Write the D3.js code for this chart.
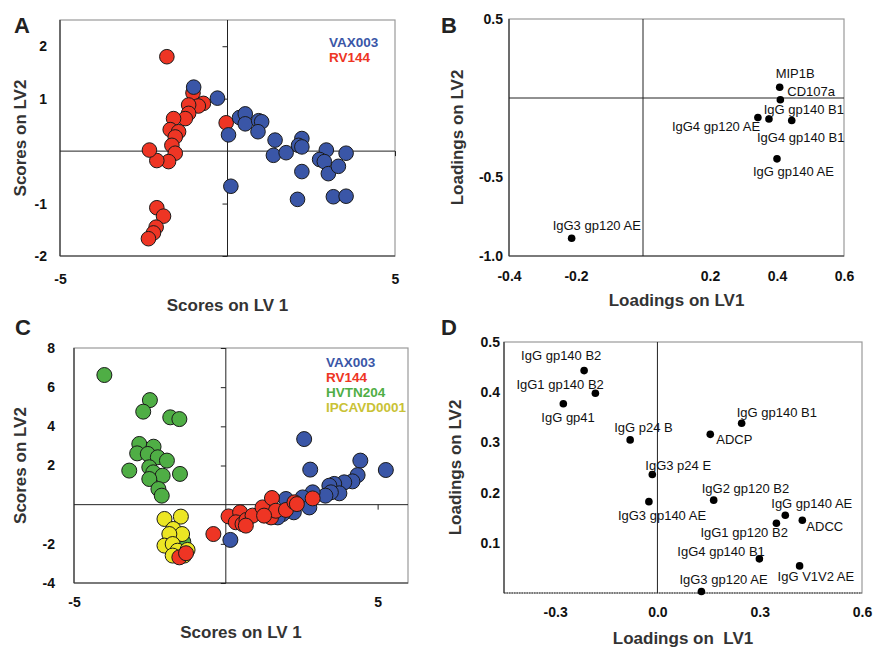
<!DOCTYPE html>
<html>
<head>
<meta charset="utf-8">
<script src="https://cdn.jsdelivr.net/npm/d3@7"></script>
<style>
  body { margin: 0; background: #fff; }
  svg { display: block; font-family: "Liberation Sans", Arial, sans-serif; }
</style>
</head>
<body>
<svg id="fig" width="873" height="650"></svg>
<script>
'use strict';

// ---- Panel A: scores (LV1, LV2)
const A_RV144 = [
  [-1.81, 1.80], [-1.03, 1.11], [-0.72, 0.91], [-0.87, 0.86], [-1.16, 0.88],
  [-1.16, 0.72], [-1.26, 0.62], [-1.61, 0.62], [-1.71, 0.41], [-1.46, 0.37],
  [-1.56, 0.27], [-1.66, 0.11], [-1.56, -0.04], [-1.76, -0.20], [-2.11, -0.18],
  [-2.33, 0.02], [-0.04, 0.54], [-2.11, -1.08], [-1.91, -1.24], [-2.13, -1.45],
  [-2.21, -1.56], [-2.36, -1.67],
];
const A_VAX003 = [
  [-1.01, 1.22], [-0.30, 1.01], [0.36, 0.64], [0.53, 0.71], [0.53, 0.52],
  [0.93, 0.58], [1.02, 0.56], [0.91, 0.37], [0.03, 0.31], [1.42, 0.21],
  [1.37, -0.08], [1.75, -0.03], [2.22, 0.24], [2.12, 0.11], [2.22, 0.08],
  [2.22, -0.39], [2.09, -0.92], [0.10, -0.67], [2.95, 0.02], [2.75, -0.16],
  [2.89, -0.20], [3.01, -0.43], [3.31, -0.29], [3.54, -0.04], [3.16, -0.87],
  [3.54, -0.86],
];

// ---- Panel B: loadings
const B_NAMES = ['MIP1B', 'CD107a', 'IgG4 gp120 AE', 'IgG4 gp140 B1', 'IgG gp140 B1', 'IgG gp140 AE', 'IgG3 gp120 AE'];
const B_LV1 = [0.408, 0.410, 0.343, 0.376, 0.444, 0.400, -0.213];
const B_LV2 = [0.068, -0.011, -0.123, -0.133, -0.142, -0.385, -0.888];

// ---- Panel C: scores (LV1, LV2)
const C_VAX003 = [
  [0.15, -1.80], [2.58, 3.35], [2.78, 1.79], [4.43, 2.25], [5.27, 1.77],
  [4.34, 1.51], [4.17, 1.19], [3.90, 1.14], [3.57, 1.06], [3.41, 0.97],
  [3.74, 0.58], [3.46, 0.63], [3.28, 0.46], [2.86, 0.63], [2.53, 0.37],
  [1.98, 0.29], [2.75, -0.14], [2.24, -0.39], [1.87, -0.48], [1.71, -0.65],
];
const C_HVTN204 = [
  [-4.00, 6.62], [-2.50, 5.34], [-2.72, 4.75], [-1.83, 4.46], [-1.53, 4.37],
  [-2.85, 3.10], [-2.38, 2.96], [-2.92, 2.62], [-2.57, 2.59], [-2.24, 2.42],
  [-1.94, 2.25], [-3.18, 1.74], [-2.52, 1.91], [-2.39, 1.65], [-2.08, 1.48],
  [-1.51, 1.57], [-2.52, 1.31], [-2.22, 0.80], [-2.11, 0.46], [-1.40, -1.90],
];
const C_IPCAVD0001 = [
  [-2.02, -0.73], [-1.48, -0.61], [-1.73, -1.24], [-1.44, -1.50], [-1.86, -1.50],
  [-2.02, -2.09], [-1.75, -2.01], [-1.59, -2.35], [-1.26, -2.31], [-1.75, -2.60],
  [-1.37, -2.60],
];
const C_RV144 = [
  [-1.53, -2.69], [-1.31, -2.48], [-0.41, -1.50], [0.09, -0.60], [0.47, -0.39],
  [0.33, -0.90], [0.55, -0.99], [0.68, -0.78], [0.88, -0.56], [1.21, -0.14],
  [1.52, 0.34], [1.49, -0.65], [1.65, -0.31], [1.98, -0.27], [2.26, 0.12],
  [2.34, 0.03], [2.86, 0.32], [0.66, -1.07], [1.26, -0.56],
];

// ---- Panel D: loadings
const D_NAMES = [
  'IgG gp140 B2', 'IgG1 gp140 B2', 'IgG gp41', 'IgG p24 B', 'IgG3 p24 E',
  'IgG3 gp140 AE', 'ADCP', 'IgG gp140 B1', 'IgG2 gp120 B2', 'IgG gp140 AE',
  'ADCC', 'IgG1 gp120 B2', 'IgG4 gp140 B1', 'IgG V1V2 AE', 'IgG3 gp120 AE',
];
const D_LV1 = [-0.215, -0.182, -0.276, -0.080, -0.015, -0.025, 0.155, 0.247, 0.165, 0.375, 0.425, 0.349, 0.299, 0.417, 0.129];
const D_LV2 = [0.443, 0.398, 0.377, 0.305, 0.236, 0.182, 0.316, 0.338, 0.185, 0.155, 0.145, 0.139, 0.068, 0.054, 0.003];

// label placement (pixels from the dot, text starts there)
const B_LABEL_OFFSET = [[-4, -9], [7, -4], [-86, 14], [-12, 23], [-28, -6], [-24, 17], [-19, -8]];
const D_LABEL_OFFSET = [
  [-63, -11], [-79, -4], [-22, 18], [-16, -8], [-7, -5],
  [-31, 18], [6, 10], [-5, -6], [-12, -7], [-14, -7],
  [4, 11], [-76, 14], [-82, -3], [-22, 15], [-22, -7],
];

const COLOR = { VAX003: '#3a56a7', RV144: '#ee3524', HVTN204: '#4fae45', IPCAVD0001: '#ece624' };
const TEXT_COLOR = { VAX003: '#3a56a7', RV144: '#ee3524', HVTN204: '#4fae45', IPCAVD0001: '#c9c236' };

const svg = d3.select('#fig');
const fmt1 = (d) => d.toFixed(1);
const fmt0 = (d) => String(d);

function drawPanel(cfg) {
  const x = d3.scaleLinear().domain(cfg.xDomain).range([cfg.left, cfg.right]);
  const y = d3.scaleLinear().domain(cfg.yDomain).range([cfg.bottom, cfg.top]);
  const g = svg.append('g');

  // frame: light top/right, dark left/bottom
  g.append('rect')
    .attr('x', cfg.left).attr('y', cfg.top)
    .attr('width', cfg.right - cfg.left).attr('height', cfg.bottom - cfg.top)
    .attr('fill', 'none').attr('stroke', '#9a9a9a').attr('stroke-width', 1.2);
  g.append('path')
    .attr('d', `M${cfg.left},${cfg.top}V${cfg.bottom}`)
    .attr('fill', 'none').attr('stroke', '#333').attr('stroke-width', 1.2);
  g.append('path')
    .attr('d', `M${cfg.left},${cfg.bottom}H${cfg.right}`)
    .attr('fill', 'none').attr('stroke', '#333').attr('stroke-width', 1.2)
    .attr('stroke-dasharray', cfg.bottomDash || null);

  // zero lines
  g.append('line')
    .attr('x1', x(0)).attr('x2', x(0)).attr('y1', cfg.top).attr('y2', cfg.bottom)
    .attr('stroke', '#222').attr('stroke-width', 1);
  if (y(0) < cfg.bottom - 1) {
    g.append('line')
      .attr('x1', cfg.left).attr('x2', cfg.right).attr('y1', y(0)).attr('y2', y(0))
      .attr('stroke', '#222').attr('stroke-width', 1);
  }

  // tick labels outside the frame
  g.append('g')
    .attr('transform', `translate(${cfg.left - cfg.yPad},0)`)
    .call(d3.axisLeft(y).tickValues(cfg.yTicks).tickSize(0).tickPadding(0).tickFormat(cfg.fmt))
    .call((a) => a.select('.domain').remove())
    .call((a) => a.selectAll('text').attr('font-size', 14).attr('font-weight', 'bold')
      .attr('font-family', '"Liberation Sans", Arial, sans-serif').attr('fill', '#111'));
  g.append('g')
    .attr('transform', `translate(0,${cfg.bottom + cfg.xPad})`)
    .call(d3.axisBottom(x).tickValues(cfg.xTicks).tickSize(0).tickPadding(0).tickFormat(cfg.fmt))
    .call((a) => a.select('.domain').remove())
    .call((a) => a.selectAll('text').attr('font-size', 14).attr('font-weight', 'bold')
      .attr('font-family', '"Liberation Sans", Arial, sans-serif').attr('fill', '#111'));

  // small ticks on the zero lines
  if (cfg.centerTicks) {
    g.append('g')
      .attr('transform', `translate(${x(0)},0)`)
      .call(d3.axisLeft(y).tickValues(cfg.yTicks).tickSize(5).tickFormat(''))
      .call((a) => a.select('.domain').remove())
      .call((a) => a.selectAll('line').attr('stroke', '#222'));
    g.append('g')
      .attr('transform', `translate(0,${y(0)})`)
      .call(d3.axisBottom(x).tickValues(cfg.xTicks.filter((v) => v > cfg.xDomain[0])).tickSize(5).tickFormat(''))
      .call((a) => a.select('.domain').remove())
      .call((a) => a.selectAll('line').attr('stroke', '#222'));
  }

  // titles
  const cx = (cfg.left + cfg.right) / 2;
  const cy = (cfg.top + cfg.bottom) / 2;
  g.append('text')
    .attr('x', cx).attr('y', cfg.xTitleY)
    .attr('text-anchor', 'middle').attr('font-size', 17).attr('font-weight', 'bold')
    .attr('fill', '#333').attr('xml:space', 'preserve').text(cfg.xTitle);
  g.append('text')
    .attr('transform', `translate(${cfg.yTitleX},${cy}) rotate(-90)`)
    .attr('text-anchor', 'middle').attr('font-size', 17).attr('font-weight', 'bold')
    .attr('fill', '#333').text(cfg.yTitle);
  g.append('text')
    .attr('x', cfg.letterX).attr('y', cfg.letterY)
    .attr('font-size', 22).attr('font-weight', 'bold').attr('fill', '#222').text(cfg.letter);

  return { x, y, g };
}

function drawScores(p, groups, r) {
  groups.forEach(([pts, key]) => {
    p.g.append('g').selectAll('circle').data(pts).join('circle')
      .attr('cx', (d) => p.x(d[0])).attr('cy', (d) => p.y(d[1])).attr('r', r)
      .attr('fill', COLOR[key]).attr('stroke', '#1a1a1a').attr('stroke-width', 1);
  });
}

function drawLegend(p, keys, lx, ly) {
  p.g.append('g').selectAll('text').data(keys).join('text')
    .attr('x', lx).attr('y', (d, i) => ly + i * 15)
    .attr('font-size', 13.5).attr('font-weight', 'bold')
    .attr('fill', (d) => TEXT_COLOR[d]).text((d) => d);
}

function drawLoadings(p, names, lv1, lv2, offsets) {
  const rows = names.map((n, i) => ({ n, a: lv1[i], b: lv2[i], o: offsets[i] }));
  p.g.append('g').selectAll('circle').data(rows).join('circle')
    .attr('cx', (d) => p.x(d.a)).attr('cy', (d) => p.y(d.b)).attr('r', 3.8).attr('fill', '#000');
  p.g.append('g').selectAll('text').data(rows).join('text')
    .attr('x', (d) => p.x(d.a) + d.o[0]).attr('y', (d) => p.y(d.b) + d.o[1])
    .attr('font-size', 13).attr('fill', '#111').text((d) => d.n);
}

// ---- A
const pA = drawPanel({
  left: 60, right: 395, top: 20, bottom: 256,
  xDomain: [-5, 5], yDomain: [-2, 2.5],
  xTicks: [-5, 5], yTicks: [-2, -1, 1, 2], fmt: fmt0,
  yPad: 13, xPad: 18, centerTicks: true,
  xTitle: 'Scores on LV 1', xTitleY: 311, yTitle: 'Scores on LV2', yTitleX: 26,
  letter: 'A', letterX: 14, letterY: 33,
});
drawScores(pA, [[A_RV144, 'RV144'], [A_VAX003, 'VAX003']], 7.3);
drawLegend(pA, ['VAX003', 'RV144'], 329, 47);

// ---- B
const pB = drawPanel({
  left: 509, right: 844, top: 19, bottom: 256,
  xDomain: [-0.4, 0.6], yDomain: [-1, 0.5],
  xTicks: [-0.4, -0.2, 0.2, 0.4, 0.6], yTicks: [-1, -0.5, 0.5], fmt: fmt1,
  yPad: 6, xPad: 15, centerTicks: false,
  xTitle: 'Loadings on LV1', xTitleY: 306, yTitle: 'Loadings on LV2', yTitleX: 463,
  letter: 'B', letterX: 441, letterY: 33,
});
drawLoadings(pB, B_NAMES, B_LV1, B_LV2, B_LABEL_OFFSET);

// ---- C
const pC = drawPanel({
  left: 74, right: 408, top: 348, bottom: 583,
  xDomain: [-5, 6], yDomain: [-4, 8],
  xTicks: [-5, 5], yTicks: [-4, -2, 2, 4, 6, 8], fmt: fmt0,
  yPad: 19, xPad: 14, centerTicks: true,
  xTitle: 'Scores on LV 1', xTitleY: 638, yTitle: 'Scores on LV2', yTitleX: 26,
  letter: 'C', letterX: 15, letterY: 335,
});
drawScores(pC, [[C_VAX003, 'VAX003'], [C_HVTN204, 'HVTN204'], [C_IPCAVD0001, 'IPCAVD0001'], [C_RV144, 'RV144']], 7.5);
drawLegend(pC, ['VAX003', 'RV144', 'HVTN204', 'IPCAVD0001'], 326, 367);

// ---- D
const pD = drawPanel({
  left: 504, right: 862, top: 342, bottom: 593,
  xDomain: [-0.45, 0.6], yDomain: [0, 0.5],
  xTicks: [-0.3, 0, 0.3, 0.6], yTicks: [0.1, 0.2, 0.3, 0.4, 0.5], fmt: fmt1,
  yPad: 4, xPad: 14, centerTicks: false, bottomDash: '1.5,1',
  xTitle: 'Loadings on  LV1', xTitleY: 644, yTitle: 'Loadings on LV2', yTitleX: 461,
  letter: 'D', letterX: 441, letterY: 335,
});
drawLoadings(pD, D_NAMES, D_LV1, D_LV2, D_LABEL_OFFSET);
</script>
</body>
</html>
